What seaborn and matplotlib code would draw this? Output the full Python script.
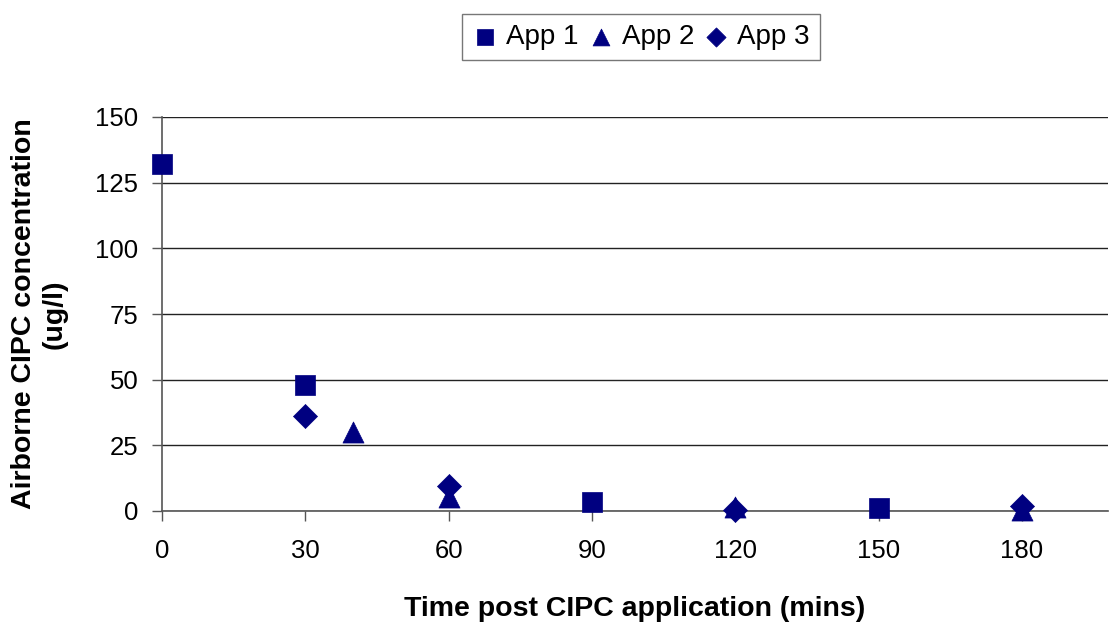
import matplotlib
matplotlib.use("Agg")
import matplotlib.pyplot as plt
import seaborn as sns
import pandas as pd

app1_x = [0, 30, 90, 150]
app1_y = [132, 48, 3.5, 1]
app2_x = [40, 60, 120, 180]
app2_y = [30, 5.5, 1.5, 0.5]
app3_x = [30, 60, 120, 180]
app3_y = [36, 9.5, 0.5, 2]
series_names = ["App 1", "App 2", "App 3"]
x_ticks = [0, 30, 60, 90, 120, 150, 180]
y_ticks = [0, 25, 50, 75, 100, 125, 150]

df = pd.concat([
    pd.DataFrame({"x": app1_x, "y": app1_y, "App": series_names[0]}),
    pd.DataFrame({"x": app2_x, "y": app2_y, "App": series_names[1]}),
    pd.DataFrame({"x": app3_x, "y": app3_y, "App": series_names[2]}),
])

sns.set_style("white")
plt.rcParams['font.family'] = ['Liberation Sans', 'DejaVu Sans']
plt.rcParams['text.color'] = 'black'
plt.rcParams['axes.labelcolor'] = 'black'
plt.rcParams['xtick.color'] = 'black'
plt.rcParams['ytick.color'] = 'black'

fig = plt.figure(figsize=(11.1, 6.26), dpi=100)
ax = fig.add_axes([162/1110, 1 - 511/626, (1108-162)/1110, (511-117)/626])

navy = "#000080"
markers = {"App 1": "s", "App 2": "^", "App 3": "D"}
sizes = {"App 1": 210, "App 2": 230, "App 3": 150}
for name in series_names:
    sub = df[df["App"] == name]
    sns.scatterplot(data=sub, x="x", y="y", marker=markers[name], s=sizes[name],
                    color=navy, edgecolor=navy, linewidth=0.5, ax=ax, label=name, zorder=3,
                    clip_on=False)

ax.set_xlim(0, 198)
ax.set_ylim(0, 150)
ax.set_xticks(x_ticks)
ax.set_yticks(y_ticks)
ax.tick_params(axis="both", labelsize=18.5, direction="out", length=7, width=1,
               color="#555555", bottom=True, left=True, labelcolor="black")
ax.tick_params(axis="x", pad=13)
ax.tick_params(axis="y", pad=10)
ax.yaxis.grid(True, color="#222222", linewidth=1)
ax.xaxis.grid(False)
ax.set_axisbelow(True)
for side in ["top", "right"]:
    ax.spines[side].set_visible(False)
for side in ["left", "bottom"]:
    ax.spines[side].set_color("#555555")
    ax.spines[side].set_linewidth(1.2)

ax.set_xlabel("Time post CIPC application (mins)", fontsize=20.5, fontweight="bold", labelpad=24)
ax.set_ylabel("Airborne CIPC concentration\n(ug/l)", fontsize=20.5, fontweight="bold", labelpad=20)

leg = ax.legend(loc="center", bbox_to_anchor=(0.506, 1.203),
                ncol=3, fontsize=20, frameon=True, fancybox=False, edgecolor="#555555",
                handletextpad=0.25, columnspacing=0.3, borderpad=0.35, markerscale=0.8,
                handlelength=1.0)
leg.get_frame().set_linewidth(1)

fig.savefig("out.png", dpi=100)
